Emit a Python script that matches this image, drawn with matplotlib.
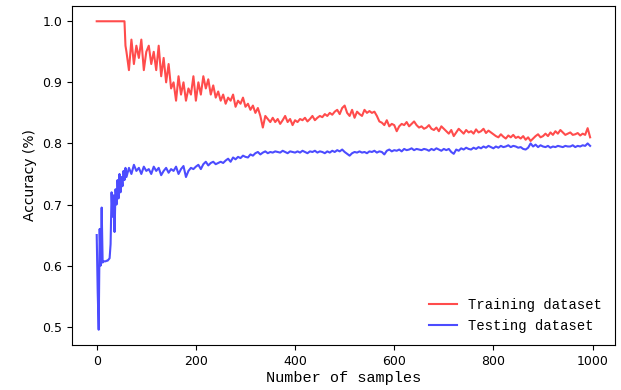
import numpy as np
import matplotlib.pyplot as plt

# sample counts: fine steps at the start, then every 5
samples = list(range(0, 60, 2)) + list(range(60, 1000, 5))

train_acc = [1.0] * 29 + [0.96] + [
    0.95, 0.92, 0.97, 0.93, 0.96, 0.94, 0.97, 0.92, 0.95,
    0.96, 0.93, 0.95, 0.92, 0.96, 0.91, 0.94, 0.90, 0.93, 0.89,
    0.90, 0.87, 0.91, 0.88, 0.90, 0.87, 0.89, 0.88, 0.91, 0.87,
    0.90, 0.88, 0.91, 0.89, 0.905, 0.88, 0.895, 0.875, 0.885, 0.87,
    0.88, 0.865, 0.875, 0.87, 0.88, 0.86, 0.87, 0.865, 0.875, 0.86,
    0.865, 0.855, 0.862, 0.85, 0.858, 0.845, 0.826, 0.845, 0.84, 0.835,
    0.842, 0.835, 0.84, 0.832, 0.838, 0.845, 0.835, 0.84, 0.83, 0.838,
    0.835, 0.84, 0.838, 0.842, 0.836, 0.84, 0.845, 0.838, 0.842, 0.845,
    0.843, 0.848, 0.845, 0.85, 0.847, 0.852, 0.855, 0.848, 0.858, 0.862,
    0.85, 0.845, 0.855, 0.842, 0.852, 0.848, 0.845, 0.855, 0.85, 0.853,
    0.85, 0.852, 0.845, 0.836, 0.834, 0.83, 0.838, 0.828, 0.832, 0.83,
    0.82, 0.828, 0.832, 0.83, 0.835, 0.828, 0.832, 0.836, 0.83, 0.826,
    0.828, 0.824, 0.826, 0.83, 0.824, 0.822, 0.826, 0.82, 0.828, 0.824,
    0.82, 0.816, 0.822, 0.812, 0.818, 0.824, 0.82, 0.816, 0.822, 0.818,
    0.82, 0.816, 0.823, 0.818, 0.82, 0.824, 0.817, 0.821, 0.818, 0.815,
    0.812, 0.81, 0.815, 0.811, 0.808, 0.813, 0.81, 0.814, 0.809, 0.811,
    0.808, 0.812, 0.806, 0.81, 0.804, 0.808, 0.812, 0.815, 0.81, 0.812,
    0.816, 0.812, 0.818, 0.814, 0.82, 0.816, 0.822, 0.818, 0.814, 0.816,
    0.818, 0.814, 0.815, 0.817, 0.813, 0.816, 0.814, 0.825, 0.81,
]

test_acc = [
    0.65, 0.557, 0.495, 0.66, 0.60, 0.695, 0.605, 0.607, 0.607, 0.607,
    0.608, 0.608, 0.61, 0.612, 0.635, 0.72, 0.68, 0.715, 0.655, 0.725,
    0.70, 0.74, 0.71, 0.75, 0.72, 0.745, 0.73, 0.755, 0.74, 0.76,
    0.745, 0.76, 0.75, 0.765, 0.755, 0.76, 0.75, 0.762, 0.755,
    0.758, 0.75, 0.762, 0.755, 0.76, 0.748, 0.755, 0.76, 0.752, 0.758,
    0.755, 0.762, 0.75, 0.758, 0.763, 0.745, 0.755, 0.76, 0.758, 0.762,
    0.765, 0.758, 0.766, 0.77, 0.764, 0.768, 0.77, 0.766, 0.768, 0.77,
    0.768, 0.772, 0.775, 0.77, 0.777, 0.774, 0.778, 0.776, 0.78, 0.778,
    0.777, 0.782, 0.78, 0.784, 0.786, 0.782, 0.785, 0.787, 0.784, 0.786,
    0.785, 0.787, 0.786, 0.785, 0.788, 0.786, 0.784, 0.787, 0.786, 0.785,
    0.787, 0.785, 0.788, 0.786, 0.784, 0.787, 0.786, 0.788, 0.785, 0.787,
    0.786, 0.784, 0.787, 0.785, 0.788, 0.786, 0.789, 0.787, 0.79, 0.786,
    0.783, 0.78, 0.784, 0.786, 0.785, 0.787, 0.785, 0.786, 0.784, 0.787,
    0.786, 0.788, 0.785, 0.787, 0.786, 0.782, 0.788, 0.79, 0.787, 0.789,
    0.788, 0.79, 0.787, 0.791, 0.789, 0.79, 0.792, 0.789, 0.791, 0.79,
    0.789, 0.791, 0.79, 0.788, 0.791, 0.789, 0.792, 0.79, 0.788, 0.791,
    0.789, 0.791, 0.786, 0.783, 0.79, 0.788, 0.792, 0.79, 0.793, 0.791,
    0.79, 0.793, 0.791, 0.794, 0.792, 0.795, 0.793, 0.796, 0.794, 0.792,
    0.795, 0.793, 0.796, 0.794, 0.795, 0.797, 0.794, 0.796, 0.795, 0.793,
    0.794, 0.791, 0.79, 0.793, 0.8, 0.795, 0.798, 0.794, 0.797, 0.795,
    0.794, 0.796, 0.793, 0.795, 0.794, 0.796, 0.795, 0.794, 0.796, 0.795,
    0.795, 0.797, 0.794, 0.796, 0.795, 0.797, 0.796, 0.8, 0.796,
]

mono = ['Liberation Mono', 'DejaVu Sans Mono']

fig = plt.figure(figsize=(6.21, 3.90), dpi=100)
ax = fig.add_axes([0.116, 0.115, 0.874, 0.87])

ax.plot(samples, train_acc, color='red', alpha=0.7, lw=1.5, label='Training dataset')
ax.plot(samples, test_acc, color='blue', alpha=0.7, lw=1.5, label='Testing dataset')

ax.set_xlabel('Number of samples', fontsize=11, family=mono, labelpad=2)
ax.set_ylabel('Accuracy (%)', fontsize=10)
ax.tick_params(labelsize=9)
ax.set_xticks([0, 200, 400, 600, 800, 1000])

ax.legend(loc='lower right', frameon=False, prop={'family': mono, 'size': 10})

fig.savefig('out.png', dpi=100)
